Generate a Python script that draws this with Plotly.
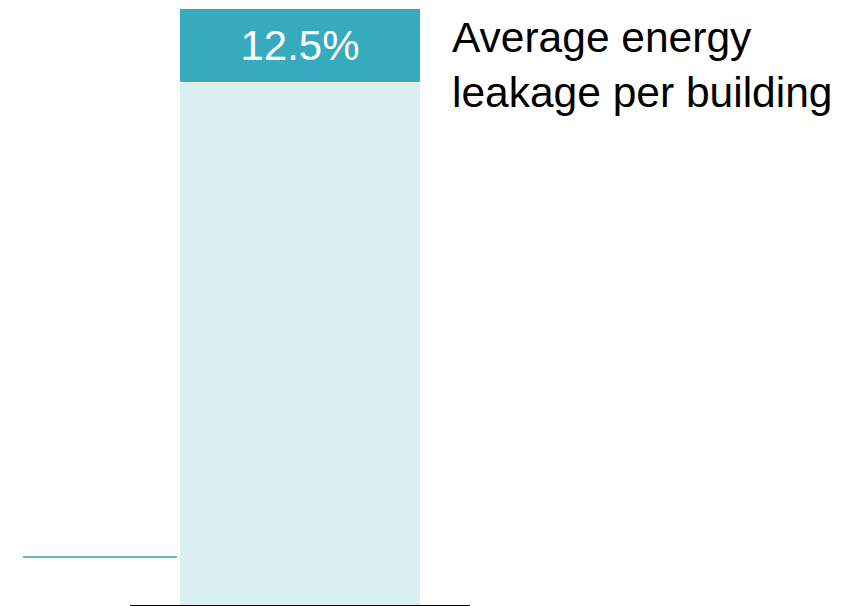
import plotly.graph_objects as go

categories = ["Building"]
remaining = [87.5]
leakage = [12.5]
leakage_labels = ["12.5%"]
annotation_text = "Average energy<br>leakage per building"

# page body has an 8px margin, so the figure is sized/offset to compensate
W, H = 838, 598
L, T, B = 122, 0, 1
PW = 340
PH = H - T - B

fig = go.Figure()
fig.add_trace(go.Bar(
    x=categories, y=remaining,
    marker=dict(color="#D9EFF2", line=dict(color="white", width=1)),
    hoverinfo="skip", showlegend=False,
))
fig.add_trace(go.Bar(
    x=categories, y=leakage,
    marker=dict(color="#35ABBD", line=dict(color="white", width=1)),
    text=leakage_labels, textposition="inside", insidetextanchor="middle",
    textfont=dict(family="Liberation Sans, Arial", size=42, color="white"),
    hoverinfo="skip", showlegend=False,
))

fig.update_layout(
    barmode="stack",
    bargap=0.29,
    width=W, height=H,
    margin=dict(l=L, r=W - L - PW, t=T, b=B, pad=0),
    paper_bgcolor="white", plot_bgcolor="white",
    font=dict(family="Liberation Sans, Arial", color="black"),
    xaxis=dict(showticklabels=False, showgrid=False, zeroline=False,
               showline=True, linecolor="black", linewidth=2, ticks=""),
    yaxis=dict(range=[0, 100], showticklabels=False, showgrid=False,
               zeroline=False, showline=False),
)

fig.add_annotation(
    xref="paper", yref="paper", x=(442 - L) / PW, y=1.0,
    xanchor="left", yanchor="top", align="left", yshift=-4,
    text=annotation_text, showarrow=False,
    font=dict(family="Liberation Sans, Arial", size=42.5, color="black"),
)

ly = (597 - 549) / PH
fig.add_shape(
    type="line", xref="paper", yref="paper",
    x0=(15 - L) / PW, x1=(169 - L) / PW,
    y0=ly, y1=ly,
    line=dict(color="#2FA3B8", width=1.5),
)

fig.write_html("out.html")
